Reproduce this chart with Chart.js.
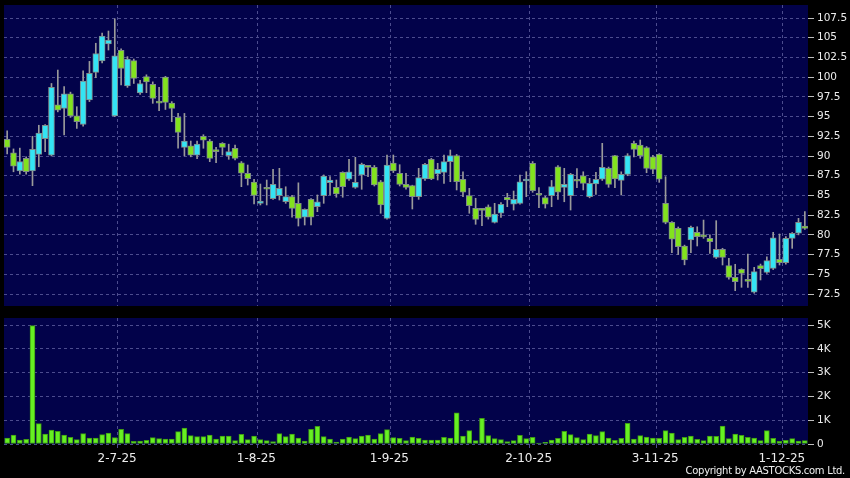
<!DOCTYPE html>
<html><head><meta charset="utf-8">
<script src="https://cdn.jsdelivr.net/npm/chart.js@4.4.1/dist/chart.umd.min.js"></script>
<style>
html,body{margin:0;padding:0;background:#000;}
#wrap{position:relative;width:850px;height:478px;background:#000;overflow:hidden;}
#c1{position:absolute;left:0;top:0;}
#c2{position:absolute;left:0;top:312px;}
#copy{position:absolute;right:5px;top:465px;color:#f0f0f0;font:10px "DejaVu Sans",sans-serif;letter-spacing:-0.3px;white-space:nowrap;}
</style>
</head><body>
<div id="wrap">
<canvas id="c1" width="850" height="312"></canvas>
<canvas id="c2" width="850" height="166"></canvas>
<div id="copy">Copyright by AASTOCKS.com Ltd.</div>
</div>
<script>
const opens = [92.1,90.4,88.1,89.7,88.1,90.2,92.2,90.1,96.5,96.05,
97.9,95.1,94.0,97.1,100.6,102.05,104.2,95.1,103.4,98.9,
102.1,98.0,100.06,99.1,96.75,100.0,96.7,94.9,91.1,91.3,
90.1,92.5,91.9,90.6,91.6,90.04,90.98,89.15,87.81,86.7,
84.0,86.03,84.6,84.97,84.2,84.84,84.0,82.23,84.5,83.57,
84.97,86.62,86.03,87.93,87.05,86.03,87.59,88.6,88.57,86.74,
82.1,89.09,87.81,86.41,86.24,84.84,87.08,89.58,87.72,87.93,
89.28,90.04,87.05,84.97,83.37,83.15,83.57,81.59,82.74,84.76,
83.88,84.0,86.83,89.07,85.27,84.72,84.97,88.64,86.03,84.97,
86.9,87.5,84.84,86.45,87.05,88.44,90.04,86.92,87.68,91.61,
91.4,91.06,89.9,90.22,84.0,81.59,80.83,78.59,79.35,80.32,
79.8,79.56,77.15,78.16,76.09,74.62,75.63,74.2,72.72,76.09,
75.25,75.76,76.9,76.47,79.56,80.2,81.12];
const highs = [93.2,90.9,91.0,89.9,92.5,93.9,94.0,99.2,100.9,98.8,
98.1,96.25,100.8,102.0,104.3,105.6,105.85,107.4,103.6,102.6,
102.3,99.6,100.3,99.4,98.7,100.1,96.9,95.4,95.4,91.9,
91.9,92.7,92.1,91.1,91.7,91.5,91.4,89.3,88.86,87.05,
86.45,86.96,88.3,88.44,86.1,85.0,86.6,83.3,84.6,85.06,
87.6,87.38,86.96,88.0,89.58,89.83,89.1,88.7,88.8,86.9,
90.13,90.13,88.9,87.81,86.3,88.44,89.07,89.7,89.07,90.13,
90.76,90.2,88.01,85.9,84.64,83.2,83.8,84.0,84.1,85.27,
85.56,87.59,88.01,89.3,86.0,84.9,86.9,88.8,88.44,87.8,
88.4,88.0,87.17,87.93,91.61,88.6,90.1,88.0,90.3,91.9,
92.03,91.2,90.1,90.3,87.38,81.7,81.0,78.7,81.1,81.03,
81.88,80.0,81.8,78.3,77.03,76.27,75.7,77.57,75.88,76.3,
77.23,80.32,80.11,79.77,80.3,82.1,82.94];
const lows = [90.25,88.0,87.7,87.7,86.24,88.64,90.55,90.0,95.6,92.66,
94.9,93.5,93.8,96.9,99.93,101.8,103.44,95.0,99.0,98.7,
99.2,97.8,98.03,96.68,95.74,95.9,94.35,90.98,90.0,89.9,
89.66,90.98,89.28,89.15,90.13,89.58,89.5,86.11,86.32,83.91,
83.79,83.79,84.5,84.42,84.0,82.23,81.12,81.25,81.25,82.94,
84.0,85.06,84.77,84.77,86.9,85.9,85.78,87.38,86.2,82.74,
82.0,87.9,86.2,85.8,83.28,84.5,86.9,87.0,86.96,86.54,
86.74,85.69,84.84,82.74,81.34,81.16,82.0,81.5,82.2,83.57,
83.15,83.9,84.84,85.4,83.45,83.4,83.57,84.5,84.2,83.15,
86.0,85.7,84.7,85.14,86.9,86.03,86.0,85.06,87.5,89.9,
89.71,87.88,87.76,86.66,81.4,77.74,77.5,76.2,77.74,78.59,
79.56,77.66,77.0,76.18,74.37,72.92,73.35,73.35,72.6,74.28,
75.1,75.6,76.18,76.3,78.29,80.0,80.7];
const closes = [91.1,88.7,89.3,88.0,90.85,92.9,93.9,98.7,95.8,97.9,
95.1,94.35,99.5,100.5,103.0,105.2,104.7,102.7,101.1,102.3,
99.85,99.2,99.4,97.3,96.7,96.8,96.05,93.0,91.9,90.1,
91.5,92.0,89.7,90.55,91.1,90.55,89.71,87.81,87.12,85.0,
84.3,85.78,86.4,85.9,84.84,83.37,82.1,83.24,82.23,84.2,
87.46,86.96,85.18,86.11,88.01,86.66,88.94,88.55,86.32,83.79,
88.86,88.1,86.41,86.03,84.84,87.25,88.94,87.08,88.31,89.28,
90.04,86.74,85.4,83.7,81.97,83.1,82.23,82.65,83.88,84.42,
84.5,86.74,87.08,85.6,85.02,83.88,86.11,85.4,86.41,87.68,
86.8,86.54,86.54,87.05,88.57,86.41,87.08,87.68,90.04,90.85,
90.04,88.44,88.31,87.05,81.59,79.44,78.5,76.81,80.96,79.77,
79.75,79.13,78.16,77.15,74.62,74.06,75.12,74.1,75.33,75.71,
76.73,79.64,76.47,79.56,80.2,81.59,80.83];
const volumes = [253,379,169,197,4986,857,421,590,534,379,
281,183,435,253,253,393,463,267,618,435,
112,126,154,267,225,211,211,520,674,351,
309,309,379,211,337,337,140,407,183,337,
183,140,98,435,309,421,253,126,618,744,
309,211,84,211,295,225,337,379,211,435,
604,267,239,140,295,239,169,169,169,281,
253,1306,337,562,140,1081,351,225,183,98,
140,365,225,281,42,70,169,239,534,393,
267,183,421,351,520,253,154,239,871,211,
351,295,253,239,562,463,183,281,337,197,
140,337,323,758,225,421,365,281,253,140,
562,239,112,154,225,126,140];
const priceTicks = [72.5,75,77.5,80,82.5,85,87.5,90,92.5,95,97.5,100,102.5,105,107.5];
const volumeTicks = [0,1000,2000,3000,4000,5000];
const dateTickIndex = [18,40,61,83,103,123];
const dateTickLabels = ['2-7-25','1-8-25','1-9-25','2-10-25','3-11-25','1-12-25'];
const categories = opens.map((_, i) => String(i));

const NAVY = '#02024a';
const GRID = '#4c4c8e';
const UP = '#34e4f4';
const DOWN = '#82e21e';
const EDGE = '#7f8a8a';
const WICK = '#9a9a9a';
const VOL = '#66f022';
const VOLEDGE = '#3f9a14';
const TXT = '#ececec';

const bgPlugin = {
  id: 'bg',
  beforeDraw(chart) {
    const {ctx, chartArea: a} = chart;
    ctx.save();
    ctx.fillStyle = NAVY;
    ctx.fillRect(a.left, a.top, a.right - a.left, a.bottom - a.top);
    ctx.restore();
  }
};

const xGridColor = ctx => dateTickIndex.includes(ctx.index) ? GRID : 'rgba(0,0,0,0)';
const noPad = s => { s.paddingTop = 0; s.paddingBottom = 0; s.paddingLeft = 0; s.paddingRight = 0; };

new Chart(document.getElementById('c1'), {
  type: 'bar',
  data: {
    labels: categories,
    datasets: [
      {
        data: closes.map((c, i) => [opens[i], c]),
        backgroundColor: closes.map((c, i) => c >= opens[i] ? UP : DOWN),
        borderColor: EDGE,
        borderWidth: 1,
        borderSkipped: false,
        barThickness: 6,
        minBarLength: 2,
        grouped: false
      },
      {
        data: highs.map((h, i) => [lows[i], h]),
        backgroundColor: WICK,
        borderWidth: 0,
        barThickness: 1,
        grouped: false
      }
    ]
  },
  options: {
    responsive: false,
    devicePixelRatio: 1,
    animation: false,
    events: [],
    layout: {padding: {left: 4, top: 5, right: 0, bottom: 6}},
    plugins: {legend: {display: false}, tooltip: {enabled: false}},
    scales: {
      x: {
        type: 'category',
        offset: true,
        grid: {offset: true, color: xGridColor, drawTicks: false, lineWidth: 1},
        border: {display: false, dash: [3, 3]},
        ticks: {display: false, autoSkip: false},
        afterFit: s => { s.height = 0; noPad(s); }
      },
      y: {
        position: 'right',
        min: 70.98,
        max: 109.15,
        afterBuildTicks: s => { s.ticks = priceTicks.map(v => ({value: v})); },
        grid: {color: GRID, tickColor: '#bdbdbd', tickLength: 6, tickBorderDash: []},
        border: {display: false, dash: [3, 3]},
        ticks: {color: TXT, padding: 3, font: {family: 'DejaVu Sans', size: 10.5},
                callback: v => String(v)},
        afterFit: s => { s.width = 42; noPad(s); }
      }
    }
  },
  plugins: [bgPlugin]
});

new Chart(document.getElementById('c2'), {
  type: 'bar',
  data: {
    labels: categories,
    datasets: [{
      data: volumes,
      backgroundColor: VOL,
      borderColor: VOLEDGE,
      borderWidth: 1,
      borderSkipped: false,
      barThickness: 5
    }]
  },
  options: {
    responsive: false,
    devicePixelRatio: 1,
    animation: false,
    events: [],
    layout: {padding: {left: 4, top: 6, right: 0, bottom: 0}},
    plugins: {legend: {display: false}, tooltip: {enabled: false}},
    scales: {
      x: {
        type: 'category',
        offset: true,
        grid: {offset: true, color: xGridColor, tickColor: xGridColor, drawTicks: true, tickLength: 4, tickBorderDash: []},
        border: {display: false, dash: [3, 3]},
        ticks: {
          autoSkip: false, maxRotation: 0, minRotation: 0, padding: 4, labelOffset: -4,
          color: TXT, font: {family: 'DejaVu Sans', size: 12},
          callback: (v, i) => { const k = dateTickIndex.indexOf(i); return k >= 0 ? dateTickLabels[k] : ''; }
        },
        afterFit: s => { s.height = 34; noPad(s); }
      },
      y: {
        position: 'right',
        min: 0,
        max: 5300,
        afterBuildTicks: s => { s.ticks = volumeTicks.map(v => ({value: v})); },
        grid: {color: GRID, tickColor: '#bdbdbd', tickLength: 6, tickBorderDash: []},
        border: {display: false, dash: [3, 3]},
        ticks: {color: TXT, padding: 3, font: {family: 'DejaVu Sans', size: 10.5},
                callback: v => v === 0 ? '0' : (v / 1000) + 'K'},
        afterFit: s => { s.width = 42; noPad(s); }
      }
    }
  },
  plugins: [bgPlugin]
});
</script>
</body></html>
